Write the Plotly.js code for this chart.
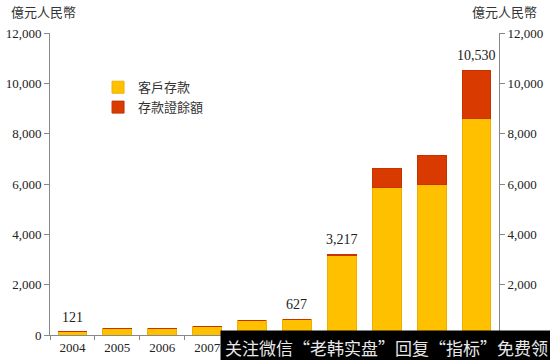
<!DOCTYPE html>
<html><head><meta charset="utf-8">
<script src="https://cdn.plot.ly/plotly-3.0.1.min.js"></script>
<style>html,body{margin:0;padding:0;background:#fff}#c{width:550px;height:360px}</style>
</head><body><div id="c"></div>
<script>
var years = ['2004','2005','2006','2007','2008','2009','2010','2011','2012','2013'];
var customerDeposits = [121, 240, 240, 320, 560, 627, 3150, 5850, 6000, 8620];
var excessDeposits = [0, 0, 0, 0, 0, 0, 67, 750, 1150, 1910];
var totalLabels = ['121', '', '', '', '', '627', '3,217', '', '', '10,530'];
var totals = customerDeposits.map(function(v, i){ return v + excessDeposits[i]; });
var seriesNames = ['客戶存款', '存款證餘額'];
var unitLabel = '億元人民幣';
var bannerText = '关注微信“老韩实盘”回复“指标”免费领';

var numFont = 'Liberation Serif, serif';
var cjkFont = 'Noto Sans CJK TC, sans-serif';
var traces = [
  {type:'bar', x:years, y:customerDeposits, name:seriesNames[0], width:0.64,
   marker:{color:'#FFC000', line:{color:'#F2AE00', width:1}}, hoverinfo:'none'},
  {type:'bar', x:years, y:excessDeposits, name:seriesNames[1], width:0.64,
   marker:{color:'#D83A00', line:{color:'#C83200', width:1}}, hoverinfo:'none'},
  {type:'scatter', mode:'markers', x:[years[0]], y:[0], yaxis:'y2', marker:{opacity:0}, showlegend:false, hoverinfo:'none'}
];
var axisCommon = {range:[0,12000], dtick:2000, tickformat:',d', showgrid:false, zeroline:false,
  showline:true, linecolor:'#888', linewidth:1, ticks:'outside', ticklen:5, tickcolor:'#888',
  tickfont:{family:numFont, size:13, color:'#222'}, fixedrange:true};
var annotations = [
  {xref:'paper', yref:'paper', x:(9-50)/449, y:1.07, xanchor:'left', yanchor:'middle', showarrow:false,
   text:unitLabel, font:{family:cjkFont, size:13, color:'#333'}},
  {xref:'paper', yref:'paper', x:(539-50)/449, y:1.07, xanchor:'right', yanchor:'middle', showarrow:false,
   text:unitLabel, font:{family:cjkFont, size:13, color:'#333'}}
];
totalLabels.forEach(function(t, i){
  if (t) annotations.push({x:i, y:totals[i], xref:'x', yref:'y', text:t, showarrow:false,
    yanchor:'bottom', yshift:5, font:{family:numFont, size:14, color:'#222'}});
});
annotations.push({xref:'paper', yref:'paper', x:(220-50)/449, y:(335-330)/302, xanchor:'left', yanchor:'top', showarrow:false,
  text:bannerText + '&nbsp;&nbsp;&nbsp;&nbsp;&nbsp;&nbsp;', bgcolor:'#000', borderpad:4, align:'left',
  font:{family:'Noto Sans CJK SC, sans-serif', size:17, color:'#e8e8e8'}});

var layout = {
  width:550, height:360, barmode:'stack',
  margin:{l:50, r:51, t:33, b:25},
  paper_bgcolor:'#fff', plot_bgcolor:'#fff',
  showlegend:true,
  legend:{x:0.107, y:0.87, xanchor:'left', yanchor:'top', bgcolor:'rgba(0,0,0,0)', traceorder:'normal',
    font:{family:cjkFont, size:13, color:'#333'}, tracegroupgap:0, itemwidth:30},
  xaxis:{type:'category', range:[-0.5,9.5], showline:true, linecolor:'#888', linewidth:1,
    ticks:'outside', tickson:'boundaries', ticklen:4, tickcolor:'#888',
    tickfont:{family:numFont, size:13, color:'#222'}, showgrid:false, fixedrange:true},
  yaxis: Object.assign({}, axisCommon, {side:'left'}),
  yaxis2: Object.assign({}, axisCommon, {side:'right', overlaying:'y'}),
  annotations: annotations
};
Plotly.newPlot('c', traces, layout, {staticPlot:true, displayModeBar:false});
</script></body></html>
